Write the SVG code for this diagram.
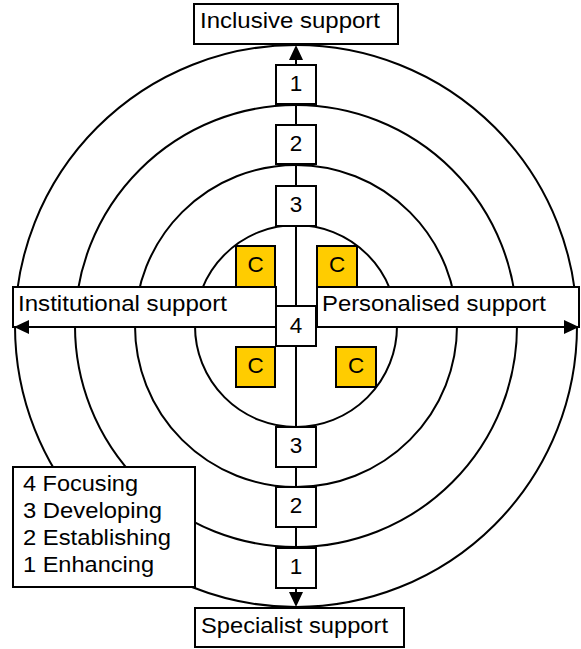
<svg xmlns="http://www.w3.org/2000/svg" width="581" height="649" viewBox="0 0 581 649">
<style>
.ring{fill:none;stroke:#000;stroke-width:2}
.box{fill:#fff;stroke:#000;stroke-width:2}
.cbox{fill:#FFCC00;stroke:#000;stroke-width:2}
.ax{stroke:#000;stroke-width:2;fill:none}
text{font-family:"Liberation Sans",Arial,sans-serif;font-size:22.5px;fill:#000}
.c{text-anchor:middle}
</style>
<defs>
<marker id="ah" markerUnits="userSpaceOnUse" markerWidth="15" markerHeight="14" refX="0" refY="7" orient="auto-start-reverse" viewBox="0 0 15 14">
<path d="M0,0 L15,7 L0,14 z" fill="#000"/>
</marker>
</defs>
<g id="rings">
<circle class="ring" cx="296" cy="326" r="281"/>
<circle class="ring" cx="296" cy="326" r="221"/>
<circle class="ring" cx="296" cy="326" r="161"/>
<circle class="ring" cx="296" cy="326" r="101"/>
</g>
<g id="inclusive"><rect class="box" x="194" y="4" width="204" height="40"/><text x="200" y="28" textLength="180" lengthAdjust="spacingAndGlyphs">Inclusive support</text></g>
<g id="specialist"><rect class="box" x="195" y="608" width="209" height="39"/><text x="201" y="633" textLength="187" lengthAdjust="spacingAndGlyphs">Specialist support</text></g>
<g id="institutional"><rect class="box" x="13" y="287" width="263" height="40"/><text x="18" y="311" textLength="209" lengthAdjust="spacingAndGlyphs">Institutional support</text></g>
<g id="personalised"><rect class="box" x="317" y="287" width="262" height="40"/><text x="322" y="311" textLength="224" lengthAdjust="spacingAndGlyphs">Personalised support</text></g>
<g id="connectors">
<line class="ax" x1="296" y1="60" x2="296" y2="592" marker-start="url(#ah)" marker-end="url(#ah)"/>
<line class="ax" x1="29" y1="327" x2="564" y2="327" marker-start="url(#ah)" marker-end="url(#ah)"/>
</g>
<g id="n1top"><rect class="box" x="276" y="65" width="40" height="39"/><text class="c" x="296" y="91">1</text></g>
<g id="n2top"><rect class="box" x="276" y="125" width="40" height="39"/><text class="c" x="296" y="151">2</text></g>
<g id="n3top"><rect class="box" x="276" y="186" width="40" height="40"/><text class="c" x="296" y="212">3</text></g>
<g id="n4"><rect class="box" x="276" y="306" width="40" height="40"/><text class="c" x="296" y="333">4</text></g>
<g id="n3bot"><rect class="box" x="276" y="427" width="40" height="40"/><text class="c" x="296" y="453">3</text></g>
<g id="n2bot"><rect class="box" x="276" y="487" width="40" height="40"/><text class="c" x="296" y="513">2</text></g>
<g id="n1bot"><rect class="box" x="276" y="548" width="40" height="40"/><text class="c" x="296" y="574">1</text></g>
<g id="c1"><rect class="cbox" x="236" y="246" width="39" height="41"/><text class="c" x="255.5" y="272">C</text></g>
<g id="c2"><rect class="cbox" x="317" y="246" width="40" height="41"/><text class="c" x="337" y="272">C</text></g>
<g id="c3"><rect class="cbox" x="236" y="347" width="39" height="40"/><text class="c" x="255.5" y="373">C</text></g>
<g id="c4"><rect class="cbox" x="336" y="347" width="40" height="40"/><text class="c" x="356" y="373">C</text></g>
<g id="legend"><rect class="box" x="13" y="467" width="182" height="120"/>
<text x="23" y="491" textLength="115" lengthAdjust="spacingAndGlyphs">4 Focusing</text>
<text x="23" y="518" textLength="139" lengthAdjust="spacingAndGlyphs">3 Developing</text>
<text x="23" y="545" textLength="148" lengthAdjust="spacingAndGlyphs">2 Establishing</text>
<text x="23" y="572" textLength="131" lengthAdjust="spacingAndGlyphs">1 Enhancing</text>
</g>
</svg>
